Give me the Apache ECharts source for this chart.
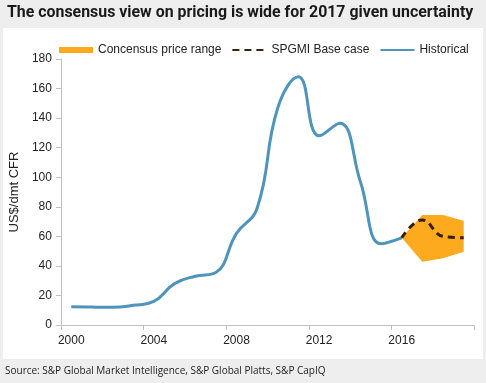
<!DOCTYPE html>
<html><head><meta charset="utf-8">
<script src="https://cdn.jsdelivr.net/npm/echarts@6/dist/echarts.min.js"></script>
<style>html,body{margin:0;padding:0;background:#eeeeee;}#c{width:486px;height:383px;}</style>
</head><body><div id="c"></div>
<script>
const histYears = [2000,2001,2002,2003,2004,2005,2006,2007,2008,2009,2010,2011,2012,2013,2014,2015,2016];
const historical = [12.3,12.1,12.0,13.3,16,28,33,35.5,62,79,147,168,128,136.5,97,55,59];
const fcYears = [2016,2017,2018,2019];
const baseCase = [59,71,60,59];
const rangeLow = [59,42.8,45.1,49.6];
const rangeHigh = [59,74.4,74.4,70.6];
const xLabels = [2000,2004,2008,2012,2016];
const xTicks = [1999.5,2003.5,2007.5,2011.5,2015.5,2019.5];

const font = '"Liberation Sans", Arial, sans-serif';
const ORANGE = '#FDAA1E', BLUE = '#4F94BA', BROWN = '#3A1E0E';
const chart = echarts.init(document.getElementById('c'), null, {renderer:'canvas'});
const pair = (xs, ys) => xs.map((x,i)=>[x, ys[i]]);
const rangeData = fcYears.map((y,i)=>[y, rangeLow[i], rangeHigh[i]]);
chart.setOption({
  backgroundColor:'#eeeeee',
  animation:false,
  graphic:[
    {type:'rect', shape:{x:3,y:28,width:480,height:331}, style:{fill:'#ffffff'}, z:-10, silent:true},
    {type:'text', left:7, top:5, style:{text:'The consensus view on pricing is wide for 2017 given uncertainty', font:'bold 15.9px Roboto, sans-serif', fill:'#1a1a1a'}},
    {type:'text', left:5, top:366, style:{text:'Source: S&P Global Market Intelligence, S&P Global Platts, S&P CapIQ', font:'10px "Open Sans", sans-serif', fill:'#222'}}
  ],
  legend:{
    top:39, left:54, itemGap:10, itemWidth:34, itemHeight:6,
    textStyle:{fontFamily:font, fontSize:12, color:'#222'},
    itemStyle:{opacity:0},
    data:[
      {name:'Concensus price range', icon:'rect', itemStyle:{color:ORANGE, opacity:1}},
      {name:'SPGMI Base case'},
      {name:'Historical'}
    ]
  },
  grid:{left:55, right:12, top:59, bottom:58},
  xAxis:{
    type:'value', min:1999.5, max:2019.5,
    axisLine:{lineStyle:{color:'#bfbfbf'}},
    axisTick:{show:true, length:5, customValues:xTicks, lineStyle:{color:'#bfbfbf'}},
    axisLabel:{customValues:xLabels, color:'#222', fontFamily:font, fontSize:12, margin:10, formatter:v=>String(v)},
    splitLine:{show:false}
  },
  yAxis:{
    type:'value', min:0, max:180, interval:20,
    name:'US$/dmt CFR', nameLocation:'middle', nameGap:32,
    nameTextStyle:{color:'#222', fontFamily:font, fontSize:13},
    axisLine:{show:true, lineStyle:{color:'#bfbfbf'}},
    axisTick:{show:true, length:5, lineStyle:{color:'#bfbfbf'}},
    axisLabel:{color:'#222', fontFamily:font, fontSize:12, margin:9},
    splitLine:{show:false}
  },
  series:[
    {name:'Concensus price range', type:'custom', data:rangeData, z:1,
      itemStyle:{color:ORANGE},
      encode:{x:0, y:[1,2]},
      renderItem:function(params, api){
        if (params.dataIndex !== 0) return null;
        const top = rangeData.map(d=>api.coord([d[0], d[2]]));
        const bot = rangeData.slice().reverse().map(d=>api.coord([d[0], d[1]]));
        return {type:'polygon', shape:{points: top.concat(bot)}, style:{fill:ORANGE}};
      }
    },
    {name:'Historical', type:'line', data:pair(histYears, historical), symbol:'none', smooth:0.45,
      lineStyle:{color:BLUE, width:3}, itemStyle:{color:BLUE}, z:3},
    {name:'SPGMI Base case', type:'line', data:pair(fcYears, baseCase), symbol:'none', smooth:0.45,
      lineStyle:{color:BROWN, width:3, type:[7,5]}, itemStyle:{color:BROWN}, z:4}
  ]
});
</script></body></html>
